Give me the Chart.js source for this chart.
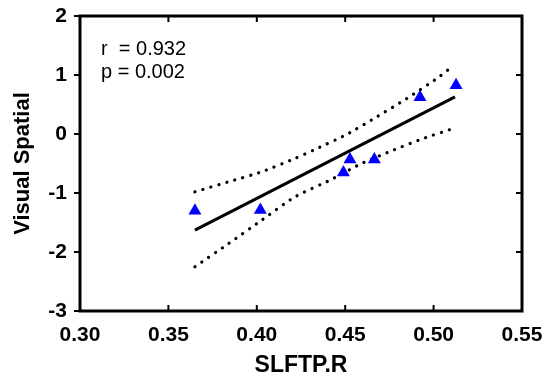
<!DOCTYPE html>
<html>
<head>
<meta charset="utf-8">
<script src="https://cdn.jsdelivr.net/npm/chart.js@4/dist/chart.umd.min.js"></script>
<style>
  html, body { margin: 0; padding: 0; background: #fff; }
  #wrap { width: 546px; height: 379px; }
</style>
</head>
<body>
<div id="wrap"><canvas id="chart" width="546" height="379"></canvas></div>
<script>
// observed points (SLFTP.R vs Visual Spatial)
const pointX = [0.365, 0.402, 0.449, 0.4527, 0.4665, 0.4923, 0.5127];
const pointY = [-1.30, -1.29, -0.652, -0.433, -0.433, 0.622, 0.827];

// fitted line end points
const fitX = [0.365, 0.5121];
const fitY = [-1.629, 0.629];

// confidence band
const upperX = [0.365, 0.3839, 0.4028, 0.4216, 0.432, 0.4508, 0.4678, 0.4848, 0.5018, 0.5102];
const upperY = [-0.98, -0.811, -0.641, -0.414, -0.274, -0.008, 0.29, 0.601, 0.94, 1.136];
const lowerX = [0.365, 0.3839, 0.4028, 0.4216, 0.4414, 0.4593, 0.4772, 0.4942, 0.5111];
const lowerY = [-2.25, -1.86, -1.46, -1.065, -0.782, -0.499, -0.274, -0.076, 0.093];

const xTicks = [0.30, 0.35, 0.40, 0.45, 0.50, 0.55];
const yTicks = [-3, -2, -1, 0, 1, 2];
const statLines = ['r  = 0.932', 'p = 0.002'];

const FONT = "'Liberation Sans', Arial, Helvetica, sans-serif";
const toXY = (xs, ys) => xs.map((x, i) => ({ x, y: ys[i] }));

// box, inward/outward tick marks and the r/p text
const framePlugin = {
    id: 'frame',
    afterDraw(chart) {
        const { ctx, chartArea: a, scales } = chart;
        ctx.save();
        ctx.strokeStyle = '#000';
        ctx.lineWidth = 2;
        scales.x.ticks.forEach(t => {
            const px = scales.x.getPixelForValue(t.value);
            ctx.beginPath();
            ctx.moveTo(px, a.bottom); ctx.lineTo(px, a.bottom - 6);
            ctx.moveTo(px, a.top); ctx.lineTo(px, a.top + 6);
            ctx.stroke();
        });
        scales.y.ticks.forEach(t => {
            const py = scales.y.getPixelForValue(t.value);
            ctx.beginPath();
            ctx.moveTo(a.left - 6, py); ctx.lineTo(a.left, py);
            ctx.moveTo(a.right, py); ctx.lineTo(a.right - 6, py);
            ctx.stroke();
        });
        ctx.lineWidth = 3;
        ctx.strokeRect(a.left, a.top, a.right - a.left, a.bottom - a.top);

        ctx.fillStyle = '#000';
        ctx.font = '20px ' + FONT;
        ctx.textBaseline = 'alphabetic';
        ctx.textAlign = 'left';
        statLines.forEach((s, i) => ctx.fillText(s, a.left + 21, a.top + 39 + i * 23));
        ctx.restore();
    }
};

new Chart(document.getElementById('chart'), {
    type: 'scatter',
    data: {
        datasets: [
            {
                label: 'Observed',
                data: toXY(pointX, pointY),
                pointStyle: 'triangle',
                pointRadius: 7.5,
                pointBackgroundColor: '#0000ff',
                pointBorderWidth: 0,
                showLine: false
            },
            {
                label: 'Fit',
                data: toXY(fitX, fitY),
                showLine: true,
                borderColor: '#000',
                borderWidth: 3,
                pointRadius: 0
            },
            {
                label: 'Upper',
                data: toXY(upperX, upperY),
                showLine: true,
                tension: 0.2,
                borderColor: '#000',
                borderWidth: 3.2,
                borderDash: [0.1, 8.2],
                borderCapStyle: 'round',
                pointRadius: 0
            },
            {
                label: 'Lower',
                data: toXY(lowerX, lowerY),
                showLine: true,
                tension: 0.2,
                borderColor: '#000',
                borderWidth: 3.2,
                borderDash: [0.1, 8.2],
                borderCapStyle: 'round',
                pointRadius: 0
            }
        ]
    },
    options: {
        responsive: false,
        devicePixelRatio: 1,
        animation: false,
        layout: { padding: { top: 16, right: 24, left: 0, bottom: 0 } },
        plugins: {
            legend: { display: false },
            tooltip: { enabled: false }
        },
        scales: {
            x: {
                type: 'linear',
                min: 0.30,
                max: 0.55,
                afterFit: s => { s.height = 68; s.paddingLeft = 0; s.paddingRight = 0; },
                afterBuildTicks: s => { s.ticks = xTicks.map(v => ({ value: v })); },
                grid: { display: false, drawTicks: false },
                border: { display: false },
                ticks: {
                    padding: 12,
                    color: '#000',
                    font: { family: FONT, size: 21, weight: 'bold' },
                    callback: v => v.toFixed(2)
                },
                title: {
                    display: true,
                    text: 'SLFTP.R',
                    color: '#000',
                    font: { family: FONT, size: 23, weight: 'bold' },
                    padding: { top: 0, bottom: 0 }
                }
            },
            y: {
                type: 'linear',
                min: -3,
                max: 2,
                afterFit: s => { s.width = 80; s.paddingTop = 0; s.paddingBottom = 0; },
                afterBuildTicks: s => { s.ticks = yTicks.map(v => ({ value: v })); },
                grid: { display: false, drawTicks: false },
                border: { display: false },
                ticks: {
                    padding: 13,
                    color: '#000',
                    font: { family: FONT, size: 21, weight: 'bold' },
                    callback: v => String(v)
                },
                title: {
                    display: true,
                    text: 'Visual Spatial',
                    color: '#000',
                    font: { family: FONT, size: 22, weight: 'bold' },
                    padding: { top: 10, bottom: 0 }
                }
            }
        }
    },
    plugins: [framePlugin]
});
</script>
</body>
</html>
